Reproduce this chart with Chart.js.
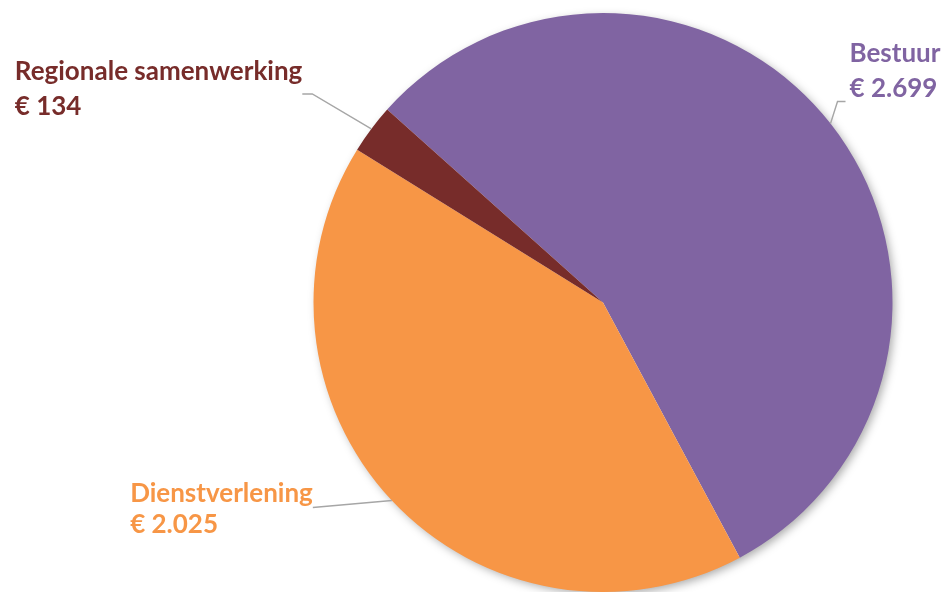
<!DOCTYPE html>
<html>
<head>
<meta charset="utf-8">
<script src="https://cdn.jsdelivr.net/npm/chart.js@4"></script>
<style>
html,body{margin:0;padding:0;background:#fff;}
canvas{display:block;}
</style>
</head>
<body>
<canvas id="c" width="944" height="592"></canvas>
<script>
const categories = ["Bestuur", "Dienstverlening", "Regionale samenwerking"];
const values = [2699, 2025, 134];
const valueLabels = ["€ 2.699", "€ 2.025", "€ 134"];
const colors = ["#8064A2", "#F79646", "#772C2A"];

// label layout: elbow and text anchor relative to leader start (slice edge midpoint)
const labelLayout = [
  {elbow: [7, -22], end: [15, -22], align: "left", textDx: 4, textDy: -39, gap: 35},
  {elbow: [-79, 7], end: [-79, 7], align: "right", textDx: 0, textDy: -6, gap: 31},
  {elbow: [-59, -35], end: [-69, -35], align: "right", textDx: 0, textDy: -14, gap: 35}
];

const shadowPlugin = {
  id: "pieShadow",
  beforeDatasetsDraw(chart) {
    const arc = chart.getDatasetMeta(0).data[0];
    if (!arc) return;
    const ctx = chart.ctx;
    ctx.save();
    ctx.shadowColor = "rgba(0,0,0,0.35)";
    ctx.shadowBlur = 10;
    ctx.shadowOffsetX = 3;
    ctx.shadowOffsetY = 3;
    ctx.fillStyle = "#ffffff";
    ctx.beginPath();
    ctx.arc(arc.x, arc.y, arc.outerRadius - 1, 0, Math.PI * 2);
    ctx.fill();
    ctx.restore();
  }
};

const labelPlugin = {
  id: "outLabels",
  afterDatasetsDraw(chart) {
    const ctx = chart.ctx;
    const meta = chart.getDatasetMeta(0);
    meta.data.forEach((arc, i) => {
      const mid = (arc.startAngle + arc.endAngle) / 2;
      const r = arc.outerRadius;
      const sx = arc.x + Math.cos(mid) * r;
      const sy = arc.y + Math.sin(mid) * r;
      const L = labelLayout[i];
      ctx.save();
      ctx.strokeStyle = "#A6A6A6";
      ctx.lineWidth = 1.4;
      ctx.beginPath();
      ctx.moveTo(sx, sy);
      ctx.lineTo(sx + L.elbow[0], sy + L.elbow[1]);
      ctx.lineTo(sx + L.end[0], sy + L.end[1]);
      ctx.stroke();
      ctx.fillStyle = colors[i];
      ctx.font = "bold 26px Lato";
      ctx.textAlign = "left";
      ctx.textBaseline = "alphabetic";
      const lines = [categories[i], valueLabels[i]];
      const w = ctx.measureText(lines[0]).width;
      let tx = sx + L.end[0] + L.textDx;
      if (L.align === "right") tx = tx - w;
      const ty = sy + L.end[1] + L.textDy;
      ctx.fillText(lines[0], tx, ty);
      ctx.fillText(lines[1], tx, ty + L.gap);
      ctx.restore();
    });
  }
};

new Chart(document.getElementById("c"), {
  type: "pie",
  data: {
    labels: categories,
    datasets: [{
      data: values,
      backgroundColor: colors,
      borderWidth: 0
    }]
  },
  options: {
    responsive: false,
    animation: false,
    rotation: -48.2,
    layout: {padding: {left: 313, right: 51, top: 13, bottom: 0}},
    plugins: {legend: {display: false}, tooltip: {enabled: false}}
  },
  plugins: [shadowPlugin, labelPlugin]
});
</script>
</body>
</html>
